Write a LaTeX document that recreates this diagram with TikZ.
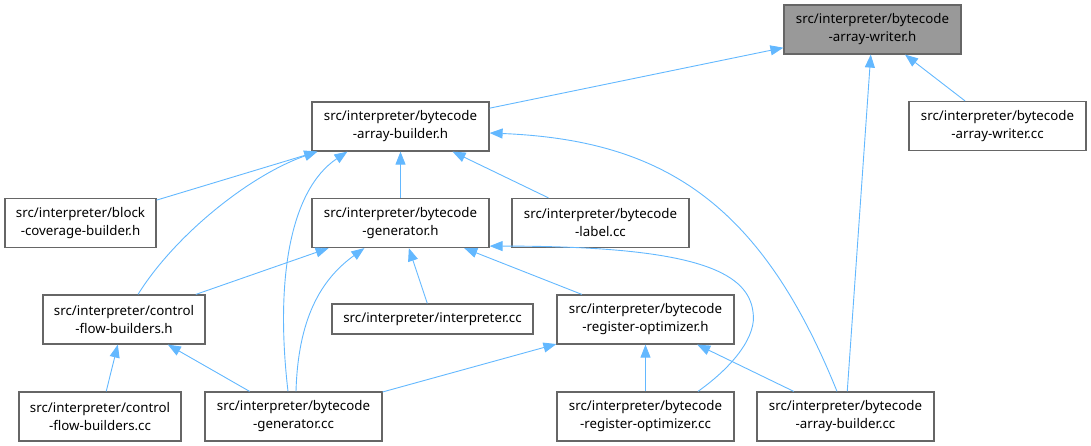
\documentclass[tikz,border=0pt]{standalone}
\usepackage{fontspec}
\setmainfont{Noto Sans}
\usetikzlibrary{arrows.meta}
\definecolor{depline}{HTML}{63B8FF}
\definecolor{frame}{HTML}{666666}
\definecolor{focus}{HTML}{999999}

\begin{document}
\begin{tikzpicture}[x=1pt, y=-1pt,
  file/.style={draw=frame, line width=1.2pt, fill=white, align=center, inner sep=0pt,
    minimum width=177pt, minimum height=49pt, font=\fontsize{13.3}{18}\selectfont},
  dep/.style={depline, line width=0.9pt, -{Triangle[length=13pt,width=10pt]}}]
  \useasboundingbox (0,0) rectangle (1091,446);

  % Top: the header itself and its own .cc
  \node[file, fill=focus] (writer_h) at (872.5,29.5) {src/interpreter/bytecode\\-array-writer.h};
  \node[file] (writer_cc) at (997.5,126) {src/interpreter/bytecode\\-array-writer.cc};

  % Headers that include it
  \node[file] (builder_h) at (400.5,126.5) {src/interpreter/bytecode\\-array-builder.h};
  \node[file, minimum width=151pt] (block_cov) at (80.5,223) {src/interpreter/block\\-coverage-builder.h};
  \node[file] (gen_h) at (400.5,223) {src/interpreter/bytecode\\-generator.h};
  \node[file] (label_cc) at (600.5,223) {src/interpreter/bytecode\\-label.cc};
  \node[file, minimum width=162pt] (cfb_h) at (124,319.5) {src/interpreter/control\\-flow-builders.h};
  \node[file, minimum width=201pt, minimum height=30pt] (interp_cc) at (432.5,319) {src/interpreter/interpreter.cc};
  \node[file] (regopt_h) at (645.5,319.5) {src/interpreter/bytecode\\-register-optimizer.h};

  % Bottom row of sources
  \node[file, minimum width=162pt] (cfb_cc) at (100,416.5) {src/interpreter/control\\-flow-builders.cc};
  \node[file] (gen_cc) at (293.5,416.5) {src/interpreter/bytecode\\-generator.cc};
  \node[file] (regopt_cc) at (645.5,416.5) {src/interpreter/bytecode\\-register-optimizer.cc};
  \node[file] (abuilder_cc) at (845.5,416.5) {src/interpreter/bytecode\\-array-builder.cc};

  % Include edges, arrow points at the included file
  \draw[dep] (builder_h) -- (writer_h);
  \draw[dep] (writer_cc) -- (writer_h);
  \draw[dep] (abuilder_cc) -- (writer_h);

  \draw[dep] (block_cov) -- (builder_h);
  \draw[dep] ([xshift=14pt]cfb_h.north) .. controls (175,235) and (250,175) .. ([xshift=6pt]builder_h.south west);
  \draw[dep] ([xshift=-5.5pt]gen_cc.north) .. controls (275,280) and (290,190) .. ([xshift=36pt]builder_h.south west);
  \draw[dep] (gen_h) -- (builder_h);
  \draw[dep] (label_cc) -- (builder_h);
  \draw[dep] ([xshift=-8.5pt]abuilder_cc.north) .. controls (760,200) and (660,140) .. ([yshift=-6.5pt]builder_h.east);

  \draw[dep] (cfb_h) -- (gen_h);
  \draw[dep] ([xshift=2.5pt]gen_cc.north) .. controls (298,320) and (320,280) .. ([xshift=53pt]gen_h.south west);
  \draw[dep] (interp_cc) -- (gen_h);
  \draw[dep] (regopt_h) -- (gen_h);
  \draw[dep] ([xshift=52.5pt]regopt_cc.north) .. controls (735,365) and (757,335) .. (753,312)
    .. controls (748,270) and (690,246) .. ([yshift=2pt]gen_h.south east);

  \draw[dep] (cfb_cc) -- (cfb_h);
  \draw[dep] (gen_cc) -- (cfb_h);
  \draw[dep] (gen_cc) -- (regopt_h);
  \draw[dep] (regopt_cc) -- (regopt_h);
  \draw[dep] (abuilder_cc) -- (regopt_h);
\end{tikzpicture}
\end{document}
